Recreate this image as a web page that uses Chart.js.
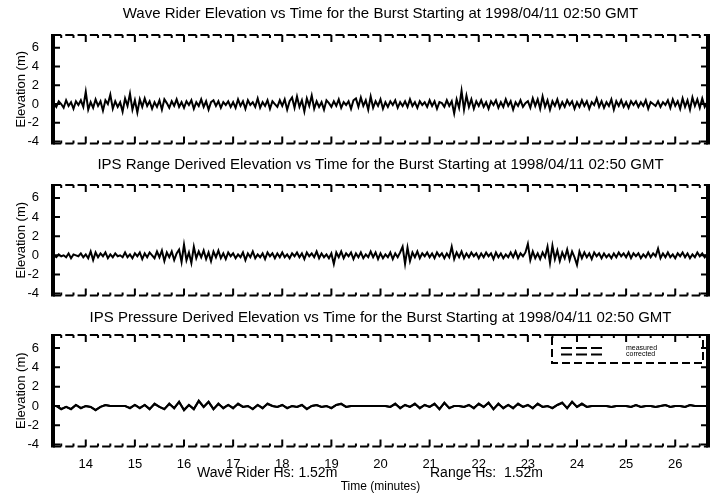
<!DOCTYPE html>
<html>
<head>
<meta charset="utf-8">
<script src="https://cdn.jsdelivr.net/npm/chart.js@4.4.0/dist/chart.umd.min.js"></script>
<style>
  html, body { margin: 0; padding: 0; background: #fff; }
  #wrap { position: relative; width: 723px; height: 493px; overflow: hidden; background: #fff; }
  canvas { position: absolute; left: 0; }
</style>
</head>
<body>
<div id="wrap">
  <canvas id="c-wave"  width="723" height="155" style="top:0"></canvas>
  <canvas id="c-range" width="723" height="150" style="top:155px"></canvas>
  <canvas id="c-press" width="723" height="188" style="top:305px"></canvas>
</div>
<script>
/* ════════════════════════════════════════════════
   Burst elevation plots — Wave Rider vs IPS
   ════════════════════════════════════════════════ */

/* ── Axis limits ── */
const X_MIN = 13.333, X_MAX = 26.667;
const Y_MIN = -4.2,   Y_MAX = 7.35;

/* ── Sample times (minutes), 3 s spacing ── */
const TIMES = [
  13.35,13.4,13.45,13.5,13.55,13.6,13.65,13.7,13.75,13.8,13.85,13.9,13.95,
  14,14.05,14.1,14.15,14.2,14.25,14.3,14.35,14.4,14.45,14.5,14.55,14.6,14.65,14.7,14.75,14.8,14.85,14.9,14.95,
  15,15.05,15.1,15.15,15.2,15.25,15.3,15.35,15.4,15.45,15.5,15.55,15.6,15.65,15.7,15.75,15.8,15.85,15.9,15.95,
  16,16.05,16.1,16.15,16.2,16.25,16.3,16.35,16.4,16.45,16.5,16.55,16.6,16.65,16.7,16.75,16.8,16.85,16.9,16.95,
  17,17.05,17.1,17.15,17.2,17.25,17.3,17.35,17.4,17.45,17.5,17.55,17.6,17.65,17.7,17.75,17.8,17.85,17.9,17.95,
  18,18.05,18.1,18.15,18.2,18.25,18.3,18.35,18.4,18.45,18.5,18.55,18.6,18.65,18.7,18.75,18.8,18.85,18.9,18.95,
  19,19.05,19.1,19.15,19.2,19.25,19.3,19.35,19.4,19.45,19.5,19.55,19.6,19.65,19.7,19.75,19.8,19.85,19.9,19.95,
  20,20.05,20.1,20.15,20.2,20.25,20.3,20.35,20.4,20.45,20.5,20.55,20.6,20.65,20.7,20.75,20.8,20.85,20.9,20.95,
  21,21.05,21.1,21.15,21.2,21.25,21.3,21.35,21.4,21.45,21.5,21.55,21.6,21.65,21.7,21.75,21.8,21.85,21.9,21.95,
  22,22.05,22.1,22.15,22.2,22.25,22.3,22.35,22.4,22.45,22.5,22.55,22.6,22.65,22.7,22.75,22.8,22.85,22.9,22.95,
  23,23.05,23.1,23.15,23.2,23.25,23.3,23.35,23.4,23.45,23.5,23.55,23.6,23.65,23.7,23.75,23.8,23.85,23.9,23.95,
  24,24.05,24.1,24.15,24.2,24.25,24.3,24.35,24.4,24.45,24.5,24.55,24.6,24.65,24.7,24.75,24.8,24.85,24.9,24.95,
  25,25.05,25.1,25.15,25.2,25.25,25.3,25.35,25.4,25.45,25.5,25.55,25.6,25.65,25.7,25.75,25.8,25.85,25.9,25.95,
  26,26.05,26.1,26.15,26.2,26.25,26.3,26.35,26.4,26.45,26.5,26.55,26.6,26.65
];

/* ── Wave Rider elevation (m) ── */
const WAVE_RIDER = [
  0.1,-0.3,0.3,0.0,-0.4,0.4,-0.2,0.2,-0.5,0.3,-0.1,0.4,-0.3,
  1.3,-0.6,0.2,-0.4,0.5,-0.2,0.3,-0.7,0.4,0.0,1.0,-0.5,0.3,-0.3,0.2,-0.8,0.6,-0.2,1.1,-0.6,
  0.4,-0.9,0.5,-0.3,0.6,-0.2,0.3,-0.5,0.2,-0.3,0.4,-0.6,0.5,0.1,-0.4,0.3,-0.2,0.5,-0.3,0.2,
  -0.4,0.3,-0.1,0.4,-0.5,0.2,-0.2,0.5,-0.3,0.3,-0.6,0.2,0.4,-0.2,0.3,-0.4,0.2,-0.1,0.3,-0.3,
  0.2,-0.4,0.5,-0.2,0.3,-0.5,0.4,-0.1,0.2,-0.3,0.6,-0.4,0.2,-0.2,0.4,-0.5,0.3,0.0,-0.3,0.4,
  -0.2,0.5,-0.6,0.3,0.7,-0.4,0.8,-0.3,0.4,-0.8,0.6,-0.2,0.9,-0.5,0.3,-0.3,0.2,-0.6,0.4,0.1,
  -0.3,0.3,-0.2,0.5,-0.4,0.2,-0.1,0.3,-0.5,0.4,0.6,-0.3,0.7,-0.2,0.4,-0.6,0.8,-0.4,0.3,-0.2,
  0.5,-0.5,0.2,-0.3,0.3,-0.1,0.4,-0.4,0.2,-0.2,0.3,-0.3,0.5,-0.2,0.2,-0.4,0.3,-0.1,0.2,-0.3,
  0.4,-0.2,0.3,-0.5,0.2,0.1,-0.3,0.4,-0.2,0.3,-1.0,0.5,-0.4,1.4,-0.6,0.9,-0.3,0.5,-0.5,0.3,
  -0.2,0.4,-0.3,0.2,-0.5,0.3,-0.1,0.4,-0.4,0.2,-0.3,0.5,-0.2,0.3,-0.6,0.2,-0.2,0.4,-0.3,0.1,
  0.3,-0.4,0.6,-0.2,0.5,-0.5,0.8,-0.3,0.4,-0.6,0.3,-0.2,0.5,-0.4,0.2,-0.3,0.4,-0.1,0.3,-0.5,
  0.2,-0.3,0.4,-0.2,0.3,-0.5,0.2,-0.1,0.6,-0.3,0.3,-0.4,0.2,-0.2,0.5,-0.6,0.3,-0.2,0.4,-0.3,
  0.2,-0.4,0.3,-0.1,0.3,-0.3,0.2,-0.2,0.4,-0.5,0.2,0.0,-0.2,0.3,-0.3,0.2,-0.1,0.4,-0.4,0.5,
  -0.2,0.3,-0.5,0.6,-0.3,0.4,-0.6,0.7,-0.2,0.5,-0.4,0.6,-0.3,0.2
];

/* ── IPS range derived elevation (m) ── */
const IPS_RANGE = [
  0.0,-0.2,0.1,-0.1,0.0,-0.2,0.2,-0.3,0.1,0.0,-0.1,0.2,-0.2,
  0.1,-0.3,0.4,-0.5,0.3,-0.2,0.2,-0.1,0.3,-0.3,0.1,-0.2,0.2,-0.1,0.0,-0.2,0.3,-0.2,0.1,-0.3,
  0.2,-0.1,0.3,-0.4,0.2,-0.2,0.3,0.0,-0.3,0.4,-0.2,0.5,-0.6,0.3,-0.2,0.4,-0.5,0.2,0.6,-0.7,
  1.1,-0.5,0.3,-0.8,0.9,-0.3,0.4,-0.2,0.5,-0.4,0.3,-0.6,0.4,-0.2,0.5,-0.3,0.2,-0.4,0.3,-0.1,
  0.2,-0.3,0.1,-0.2,0.3,-0.5,0.2,-0.2,0.4,-0.3,0.1,-0.2,0.2,-0.4,0.3,-0.1,0.2,-0.3,0.2,-0.2,
  0.3,-0.2,0.1,-0.3,0.2,-0.1,0.3,-0.2,0.2,-0.4,0.3,-0.1,0.2,-0.2,0.4,-0.3,0.2,-0.2,0.1,-0.3,
  0.2,-0.9,0.3,-0.2,0.4,-0.3,0.2,-0.1,0.3,-0.4,0.2,-0.2,0.3,-0.3,0.1,-0.2,0.4,-0.2,0.3,-0.4,
  0.2,-0.3,0.1,-0.2,0.3,-0.4,0.2,-0.2,0.3,0.9,-0.9,0.8,-0.6,0.3,-0.2,0.4,-0.3,0.2,-0.1,0.3,
  -0.2,0.2,-0.3,0.3,-0.1,0.2,-0.3,0.2,-0.2,0.9,-0.4,0.3,-0.2,0.4,-0.3,0.2,-0.2,0.3,-0.1,0.2,
  -0.3,0.2,-0.2,0.3,-0.1,0.2,-0.4,0.3,-0.2,0.2,-0.3,0.1,-0.2,0.3,-0.2,0.4,-0.3,0.2,-0.1,0.3,
  1.2,-0.5,0.4,-0.3,0.2,-0.4,0.3,-0.2,0.9,-0.8,1.0,-0.4,0.5,-0.6,0.3,-0.3,0.6,-0.5,0.4,-0.2,
  -1.0,0.4,-0.3,0.3,-0.2,0.2,-0.4,0.3,-0.1,0.2,-0.3,0.2,-0.2,0.1,-0.3,0.2,-0.2,0.3,-0.1,0.2,
  -0.2,0.3,-0.3,0.2,-0.1,0.2,-0.3,0.1,-0.2,0.3,-0.2,0.2,-0.1,0.7,-0.3,0.2,-0.2,0.3,-0.2,0.1,
  -0.3,0.2,-0.1,0.3,-0.2,0.2,-0.3,0.1,-0.2,0.3,-0.1,0.2,-0.2,0.1
];

/* ── Pressure sample times (minutes), 6 s spacing ── */
const P_TIMES = [
  13.4,13.5,13.6,13.7,13.8,13.9,
  14,14.1,14.2,14.3,14.4,14.5,14.6,14.7,14.8,14.9,
  15,15.1,15.2,15.3,15.4,15.5,15.6,15.7,15.8,15.9,
  16,16.1,16.2,16.3,16.4,16.5,16.6,16.7,16.8,16.9,
  17,17.1,17.2,17.3,17.4,17.5,17.6,17.7,17.8,17.9,
  18,18.1,18.2,18.3,18.4,18.5,18.6,18.7,18.8,18.9,
  19,19.1,19.2,19.3,19.4,19.5,19.6,19.7,19.8,19.9,
  20,20.1,20.2,20.3,20.4,20.5,20.6,20.7,20.8,20.9,
  21,21.1,21.2,21.3,21.4,21.5,21.6,21.7,21.8,21.9,
  22,22.1,22.2,22.3,22.4,22.5,22.6,22.7,22.8,22.9,
  23,23.1,23.2,23.3,23.4,23.5,23.6,23.7,23.8,23.9,
  24,24.1,24.2,24.3,24.4,24.5,24.6,24.7,24.8,24.9,
  25,25.1,25.2,25.3,25.4,25.5,25.6,25.7,25.8,25.9,
  26,26.1,26.2,26.3,26.4,26.5,26.6
];

/* ── IPS pressure derived elevation (m) ── */
const PRESS_MEASURED = [
  0.0,-0.3,-0.1,-0.3,0.1,-0.2,
  0.0,-0.1,-0.4,-0.1,0.1,0.0,0.0,0.0,0.0,-0.2,
  0.1,-0.2,0.1,-0.3,0.2,-0.1,-0.3,0.2,-0.2,0.4,
  -0.4,0.1,-0.3,0.5,-0.1,0.4,-0.3,0.2,-0.2,0.1,
  -0.2,0.2,-0.1,0.0,-0.3,0.1,-0.2,0.2,0.0,-0.1,
  0.1,-0.2,0.0,-0.1,0.1,-0.3,0.0,0.1,-0.1,0.0,
  -0.2,0.1,0.2,-0.1,0.0,0.0,0.0,0.0,0.0,0.0,
  0.0,0.0,-0.1,0.2,-0.2,0.1,-0.1,0.2,-0.2,0.1,
  -0.1,0.2,-0.3,0.3,-0.2,0.0,0.0,-0.1,0.1,-0.2,
  0.2,-0.1,0.3,-0.3,0.2,-0.2,0.1,-0.2,0.2,-0.1,
  0.1,-0.2,0.2,-0.1,0.0,-0.2,0.1,0.3,-0.2,0.4,
  -0.1,0.2,-0.1,0.0,0.0,0.0,0.0,-0.1,0.0,0.0,
  0.0,-0.1,0.1,-0.1,0.0,0.0,-0.1,0.0,0.1,-0.1,
  0.0,0.0,-0.1,0.1,0.0,0.0,0.0
];
const PRESS_CORRECTED = [
  0.0,-0.35,-0.1,-0.35,0.1,-0.25,
  0.0,-0.1,-0.45,-0.1,0.1,0.0,0.0,0.0,0.0,-0.25,
  0.1,-0.25,0.1,-0.35,0.25,-0.1,-0.35,0.25,-0.25,0.45,
  -0.45,0.1,-0.35,0.55,-0.1,0.45,-0.35,0.25,-0.25,0.1,
  -0.25,0.25,-0.1,0.0,-0.35,0.1,-0.25,0.25,0.0,-0.1,
  0.1,-0.25,0.0,-0.1,0.1,-0.35,0.0,0.1,-0.1,0.0,
  -0.25,0.1,0.25,-0.1,0.0,0.0,0.0,0.0,0.0,0.0,
  0.0,0.0,-0.1,0.25,-0.25,0.1,-0.1,0.25,-0.25,0.1,
  -0.1,0.25,-0.35,0.35,-0.25,0.0,0.0,-0.1,0.1,-0.25,
  0.25,-0.1,0.35,-0.35,0.25,-0.25,0.1,-0.25,0.25,-0.1,
  0.1,-0.25,0.25,-0.1,0.0,-0.25,0.1,0.35,-0.25,0.45,
  -0.1,0.25,-0.1,0.0,0.0,0.0,0.0,-0.1,0.0,0.0,
  0.0,-0.1,0.1,-0.1,0.0,0.0,-0.1,0.0,0.1,-0.1,
  0.0,0.0,-0.1,0.1,0.0,0.0,0.0
];

/* ── Texts ── */
const TITLES = [
  'Wave Rider Elevation vs Time for the Burst Starting at 1998/04/11 02:50 GMT',
  'IPS Range Derived Elevation vs Time for the Burst Starting at 1998/04/11 02:50 GMT',
  'IPS Pressure Derived Elevation vs Time for the Burst Starting at 1998/04/11 02:50 GMT'
];
const HS_TEXTS = ['Wave Rider Hs: 1.52m', 'Range Hs:  1.52m'];

const FONT = '"Liberation Sans", Arial, Helvetica, sans-serif';
Chart.defaults.font.family = FONT;
Chart.defaults.color = '#000';

const isWhole = v => Math.abs(v - Math.round(v)) < 1e-6;

/* ── Boxed frame with inward ticks ── */
const framePlugin = {
  id: 'frame',
  afterDatasetsDraw(chart) {
    const { ctx, chartArea: a, scales: { x, y } } = chart;
    ctx.save();
    ctx.strokeStyle = '#000';
    ctx.lineWidth = 2;
    ctx.beginPath();
    x.ticks.forEach(t => {
      const px = x.getPixelForValue(t.value);
      const len = isWhole(t.value) ? 7 : 3;
      ctx.moveTo(px, a.top);    ctx.lineTo(px, a.top + len);
      ctx.moveTo(px, a.bottom); ctx.lineTo(px, a.bottom - len);
    });
    y.ticks.forEach(t => {
      const py = y.getPixelForValue(t.value);
      const len = t.value % 2 === 0 ? 7 : 5;
      ctx.moveTo(a.left, py);  ctx.lineTo(a.left + len, py);
      ctx.moveTo(a.right, py); ctx.lineTo(a.right - len, py);
    });
    ctx.stroke();

    /* dashed top / bottom edges */
    const step = x.getPixelForValue(X_MIN + 0.25) - x.getPixelForValue(X_MIN);
    ctx.setLineDash([step - 4, 4]);
    ctx.beginPath();
    ctx.moveTo(a.left, a.top);    ctx.lineTo(a.right, a.top);
    ctx.moveTo(a.left, a.bottom); ctx.lineTo(a.right, a.bottom);
    ctx.stroke();

    /* heavy left / right edges */
    ctx.setLineDash([]);
    ctx.lineWidth = 4;
    ctx.beginPath();
    ctx.moveTo(a.left, a.top - 1);  ctx.lineTo(a.left, a.bottom + 1);
    ctx.moveTo(a.right, a.top - 1); ctx.lineTo(a.right, a.bottom + 1);
    ctx.stroke();
    ctx.restore();
  }
};

/* ── Panel title, centred over the plot ── */
function titlePlugin(text, yPos) {
  return {
    id: 'panelTitle',
    afterDraw(chart) {
      const { ctx, chartArea: a } = chart;
      ctx.save();
      ctx.fillStyle = '#000';
      ctx.font = `15px ${FONT}`;
      ctx.textAlign = 'center';
      ctx.textBaseline = 'middle';
      ctx.fillText(text, (a.left + a.right) / 2, yPos);
      ctx.restore();
    }
  };
}

/* ── Dashed legend box (pressure panel) ── */
const legendPlugin = {
  id: 'boxLegend',
  afterDraw(chart) {
    const { ctx, chartArea: a } = chart;
    const L = a.right - 156, R = a.right - 5, T = a.top, B = a.top + 28;
    ctx.save();
    ctx.strokeStyle = '#000';
    ctx.lineWidth = 2;
    ctx.setLineDash([8, 4]);
    ctx.strokeRect(L, T, R - L, B - T);
    ctx.setLineDash([11, 4]);
    ctx.fillStyle = '#000';
    ctx.font = `7px ${FONT}`;
    ctx.textBaseline = 'middle';
    chart.data.datasets.forEach((ds, i) => {
      const yy = T + 13 + i * 6.5;
      ctx.beginPath();
      ctx.moveTo(L + 9, yy); ctx.lineTo(L + 50, yy);
      ctx.stroke();
      ctx.fillText(ds.label, L + 74, yy);
    });
    ctx.restore();
  }
};

/* ── Hs annotations under the time axis ── */
const hsPlugin = {
  id: 'hsText',
  afterDraw(chart) {
    const { ctx } = chart;
    ctx.save();
    ctx.fillStyle = '#000';
    ctx.font = `14px ${FONT}`;
    ctx.textBaseline = 'middle';
    ctx.fillText(HS_TEXTS[0], 197, 168);
    ctx.fillText(HS_TEXTS[1], 430, 168);
    ctx.restore();
  }
};

/* ── Shared options ── */
function panelOpts(p) {
  return {
    responsive: false,
    animation: false,
    events: [],
    layout: { padding: { top: p.top, right: 15, left: 0, bottom: 0 } },
    plugins: { legend: { display: false }, tooltip: { enabled: false } },
    elements: { point: { radius: 0 }, line: { tension: 0 } },
    scales: {
      x: {
        type: 'linear',
        min: X_MIN, max: X_MAX,
        grid: { display: false },
        border: { display: false },
        ticks: {
          display: p.xLabels,
          stepSize: 0.25,
          includeBounds: false,
          autoSkip: false,
          maxRotation: 0,
          padding: 2,
          font: { size: 13 },
          callback: v => isWhole(v) ? String(Math.round(v)) : ''
        },
        title: {
          display: p.xLabels,
          text: 'Time (minutes)',
          font: { size: 12, lineHeight: 1 },
          padding: 0
        },
        afterFit: s => { s.height = p.xh; s.paddingLeft = 0; s.paddingRight = 0; }
      },
      y: {
        min: Y_MIN, max: Y_MAX,
        grid: { display: false },
        border: { display: false },
        ticks: {
          stepSize: 1,
          includeBounds: false,
          padding: 6,
          font: { size: 13 },
          callback: v => (v % 2 === 0 ? String(v) : '')
        },
        title: {
          display: true,
          text: 'Elevation (m)',
          font: { size: 13 },
          padding: { top: 14, bottom: 0 }
        },
        afterFit: s => { s.width = 53; s.paddingTop = 0; s.paddingBottom = 0; }
      }
    }
  };
}

const lineDs = (label, data) => ({
  label, data,
  borderColor: '#000',
  borderWidth: 2,
  pointRadius: 0,
  fill: false
});

/* ── Build the three panels ── */
new Chart(document.getElementById('c-wave'), {
  type: 'line',
  data: { labels: TIMES, datasets: [lineDs('Wave Rider', WAVE_RIDER)] },
  options: panelOpts({ top: 35, xh: 11.5, xLabels: false }),
  plugins: [framePlugin, titlePlugin(TITLES[0], 14)]
});

new Chart(document.getElementById('c-range'), {
  type: 'line',
  data: { labels: TIMES, datasets: [lineDs('IPS Range', IPS_RANGE)] },
  options: panelOpts({ top: 30, xh: 9.5, xLabels: false }),
  plugins: [framePlugin, titlePlugin(TITLES[1], 10)]
});

new Chart(document.getElementById('c-press'), {
  type: 'line',
  data: {
    labels: P_TIMES,
    datasets: [lineDs('measured', PRESS_MEASURED), lineDs('corrected', PRESS_CORRECTED)]
  },
  options: panelOpts({ top: 30, xh: 46.5, xLabels: true }),
  plugins: [framePlugin, titlePlugin(TITLES[2], 13), legendPlugin, hsPlugin]
});
</script>
</body>
</html>
